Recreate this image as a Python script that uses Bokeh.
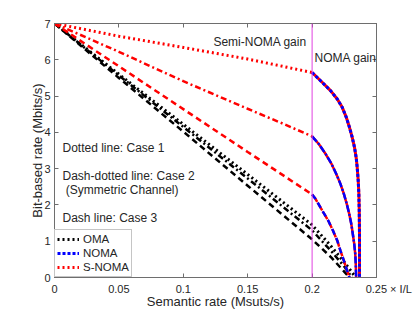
from bokeh.plotting import figure
from bokeh.models import (Range1d, LinearAxis, FixedTicker, NumeralTickFormatter,
                          Span, Label, Legend, LegendItem)
from bokeh.embed import file_html
from bokeh.resources import INLINE

FONT = "Liberation Sans"
TXT = "#262626"
AX = "#6e6e6e"

# ---------------- data ----------------
x_ticks = [0, 0.05, 0.1, 0.15, 0.2, 0.25]
y_ticks = [0, 1, 2, 3, 4, 5, 6, 7]
x_last_label = "\u00a0" * 8 + "0.25 \u00d7 I/L"

# OMA (black): case 1 dotted, case 2 dash-dotted, case 3 dashed
oma1_x = [0, 0.05, 0.1, 0.15, 0.2, 0.215, 0.225, 0.234]
oma1_y = [7, 5.6, 4.22, 2.84, 1.45, 0.85, 0.42, 0]
oma2_x = [0, 0.05, 0.1, 0.15, 0.2, 0.215, 0.225, 0.231]
oma2_y = [7, 5.57, 4.15, 2.73, 1.3, 0.72, 0.3, 0]
oma3_x = [0, 0.05, 0.1, 0.15, 0.2, 0.215, 0.229]
oma3_y = [7, 5.5, 4.02, 2.53, 1.05, 0.55, 0]

# S-NOMA (red) before the 0.2 boundary
snoma1_x = [0, 0.05, 0.1, 0.15, 0.2]
snoma1_y = [7, 6.65, 6.34, 6.02, 5.65]
snoma2_x = [0, 0.05, 0.1, 0.15, 0.178, 0.2]
snoma2_y = [7, 6.22, 5.41, 4.65, 4.23, 3.89]
snoma3_x = [0, 0.05, 0.1, 0.15, 0.2]
snoma3_y = [7, 5.82, 4.64, 3.46, 2.29]

# NOMA (blue, S-NOMA coincides) after the 0.2 boundary
noma1_x = [0.2, 0.2078, 0.2143, 0.2195, 0.2234, 0.2265, 0.229, 0.2311, 0.2329,
           0.2342, 0.235, 0.2358, 0.2363, 0.2366, 0.2368, 0.2368]
noma1_y = [5.65, 5.38, 5.15, 4.92, 4.69, 4.42, 4.14, 3.87, 3.59,
           3.31, 3.04, 2.67, 2.31, 1.85, 1.2, 0]
noma2_x = [0.2, 0.2052, 0.2104, 0.2151, 0.2187, 0.222, 0.2246, 0.2269, 0.2288,
           0.2304, 0.2316, 0.2327, 0.2335, 0.2339, 0.2342]
noma2_y = [3.89, 3.68, 3.41, 3.13, 2.86, 2.58, 2.31, 2.03, 1.76,
           1.48, 1.20, 0.93, 0.65, 0.38, 0]
noma3_x = [0.2, 0.2026, 0.2078, 0.2125, 0.2161, 0.2195, 0.222, 0.2246, 0.2272, 0.229]
noma3_y = [2.29, 2.17, 1.85, 1.57, 1.30, 1.02, 0.74, 0.47, 0.19, 0]

boundary_x = 0.2

# ---------------- figure ----------------
p = figure(width=415, height=312, output_backend="svg", toolbar_location=None,
           x_range=Range1d(0, 0.25), y_range=Range1d(0, 7),
           min_border_left=54, min_border_right=39, min_border_top=23, min_border_bottom=35)
p.background_fill_color = "white"
p.border_fill_color = "white"
p.outline_line_color = AX
p.xgrid.visible = False
p.ygrid.visible = False

def style_axis(ax, ticks, show_labels=True):
    ax.ticker = FixedTicker(ticks=ticks)
    ax.axis_line_color = AX
    ax.major_tick_line_color = AX
    ax.major_tick_in = 4
    ax.major_tick_out = 0
    ax.minor_tick_line_color = None
    ax.major_label_text_font = FONT
    ax.major_label_text_font_size = "11px"
    if show_labels:
        ax.major_label_text_color = TXT
    else:
        ax.major_label_text_color = None
        ax.major_label_standoff = 0

style_axis(p.xaxis[0], x_ticks)
p.xaxis[0].formatter = NumeralTickFormatter(format="0.[00]")
p.xaxis[0].major_label_overrides = {x_ticks[-1]: x_last_label}
p.xaxis[0].major_label_standoff = 5
p.xaxis[0].axis_label = "Semantic rate (Msuts/s)"
p.xaxis[0].axis_label_text_font = FONT
p.xaxis[0].axis_label_text_font_size = "13px"
p.xaxis[0].axis_label_text_font_style = "normal"
p.xaxis[0].axis_label_text_color = TXT
p.xaxis[0].axis_label_standoff = -4

style_axis(p.yaxis[0], y_ticks)
p.yaxis[0].major_label_standoff = 4
p.yaxis[0].axis_label = "Bit-based rate (Mbits/s)"
p.yaxis[0].axis_label_text_font = FONT
p.yaxis[0].axis_label_text_font_size = "13px"
p.yaxis[0].axis_label_text_font_style = "normal"
p.yaxis[0].axis_label_text_color = TXT
p.yaxis[0].axis_label_standoff = -4

top = LinearAxis()
style_axis(top, x_ticks, show_labels=False)
p.add_layout(top, "above")
right = LinearAxis()
style_axis(right, y_ticks, show_labels=False)
p.add_layout(right, "right")

# boundary line
p.add_layout(Span(location=boundary_x, dimension="height", line_color="#E040E0", line_width=1))

DOT = "2 3"
DASH = "6 4"
DASHDOT = "6 3 2 3"

# OMA
r_oma1 = p.line(oma1_x, oma1_y, line_color="black", line_width=3, line_dash=DOT)
p.line(oma2_x, oma2_y, line_color="black", line_width=2.5, line_dash=DASHDOT)
p.line(oma3_x, oma3_y, line_color="black", line_width=2.5, line_dash=DASH)

# S-NOMA before boundary
r_snoma1 = p.line(snoma1_x, snoma1_y, line_color="red", line_width=3, line_dash=DOT)
p.line(snoma2_x, snoma2_y, line_color="red", line_width=2.5, line_dash=DASHDOT)
p.line(snoma3_x, snoma3_y, line_color="red", line_width=2.5, line_dash=DASH)

# after boundary: red (S-NOMA) under blue (NOMA)
p.line(noma1_x, noma1_y, line_color="red", line_width=3)
r_noma1 = p.line(noma1_x, noma1_y, line_color="blue", line_width=3, line_dash="3 2")
p.line(noma2_x, noma2_y, line_color="red", line_width=2.5)
p.line(noma2_x, noma2_y, line_color="blue", line_width=2.5, line_dash="7 2 2 2")
p.line(noma3_x, noma3_y, line_color="red", line_width=2.5, line_dash="9 1")
p.line(noma3_x, noma3_y, line_color="blue", line_width=2.5, line_dash="6 4")

legend = Legend(items=[LegendItem(label="OMA", renderers=[r_oma1]),
                       LegendItem(label="NOMA", renderers=[r_noma1]),
                       LegendItem(label="S-NOMA", renderers=[r_snoma1])],
                location="bottom_left", margin=0, padding=2, spacing=0,
                label_height=14, glyph_height=14, glyph_width=22, label_standoff=4,
                label_text_font=FONT, label_text_font_size="11.5px", label_text_color=TXT,
                border_line_color="#8c8c8c", border_line_width=1,
                background_fill_color="white", background_fill_alpha=1)
p.add_layout(legend)

def lab(x, y, text, size="12px"):
    p.add_layout(Label(x=x, y=y, text=text, text_font=FONT, text_font_size=size,
                       text_align="left", text_baseline="middle", text_color=TXT))

lab(0.1234, 6.48, "Semi-NOMA gain")
lab(0.2019, 6.06, "NOMA gain")
lab(0.0062, 3.58, "Dotted line: Case 1")
lab(0.0062, 2.81, "Dash-dotted line: Case 2")
lab(0.0062, 2.42, "\u00a0(Symmetric Channel)")
lab(0.0062, 1.63, "Dash line: Case 3")

open("out.html", "w").write(file_html(p, INLINE))
